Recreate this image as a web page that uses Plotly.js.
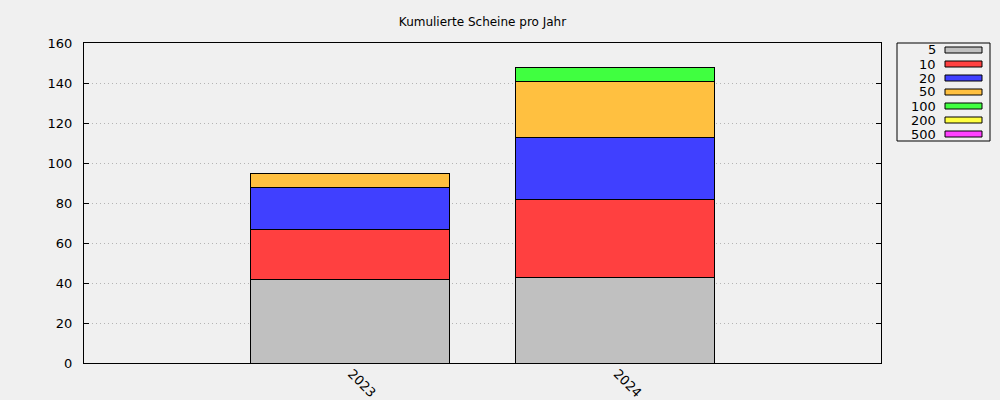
<!DOCTYPE html>
<html>
<head>
<meta charset="utf-8">
<script src="https://cdn.plot.ly/plotly-3.0.1.min.js"></script>
<style>
  html, body { margin: 0; padding: 0; background: #f0f0f0; }
  #chart { width: 1000px; height: 400px; }
</style>
</head>
<body>
<div id="chart"></div>
<script>
// ---- data ----
const years = ['2023', '2024'];
const denominations = ['5', '10', '20', '50', '100', '200', '500'];
const colors = ['#c0c0c0', '#ff4040', '#4040ff', '#ffc040', '#40ff40', '#ffff40', '#ff40ff'];
const count5   = [42, 43];
const count10  = [25, 39];
const count20  = [21, 31];
const count50  = [7, 28];
const count100 = [0, 7];
const count200 = [0, 0];
const count500 = [0, 0];
const seriesValues = [count5, count10, count20, count50, count100, count200, count500];

const FONT = 'DejaVu Sans, sans-serif';

const traces = denominations.map((d, i) => ({
  type: 'bar',
  name: d,
  x: years,
  y: seriesValues[i],
  width: 0.75,
  marker: { color: colors[i], line: { color: '#000000', width: 1 } },
  showlegend: false,
  hoverinfo: 'skip'
}));

// plot area in pixels
const L = 84, R = 881, T = 43, B = 363;
const px = v => (v - L) / (R - L);
const py = v => (B - v) / (B - T);

// custom gnuplot-style legend
const shapes = [{
  type: 'rect', xref: 'paper', yref: 'paper',
  x0: px(897), x1: px(990), y0: py(141), y1: py(43),
  line: { color: '#000000', width: 1 }, fillcolor: 'rgba(0,0,0,0)'
}];
const annotations = [];
denominations.forEach((d, i) => {
  const cy = 50 + i * 14;
  shapes.push({
    type: 'rect', xref: 'paper', yref: 'paper',
    x0: px(945), x1: px(982), y0: py(cy + 3), y1: py(cy - 3),
    line: { color: '#000000', width: 1 }, fillcolor: colors[i]
  });
  annotations.push({
    xref: 'paper', yref: 'paper', x: px(938), y: py(cy),
    xanchor: 'right', yanchor: 'middle', showarrow: false,
    text: d, font: { family: FONT, size: 13, color: '#000000' }
  });
});

const layout = {
  width: 1000, height: 400,
  paper_bgcolor: '#f0f0f0', plot_bgcolor: '#f0f0f0',
  margin: { l: L, r: 1000 - R, t: T, b: 400 - B, pad: 0 },
  barmode: 'stack',
  title: {
    text: 'Kumulierte Scheine pro Jahr',
    font: { family: FONT, size: 12, color: '#000000' },
    x: 0.5, xref: 'paper', xanchor: 'center',
    y: 1 - 22 / 400, yref: 'container', yanchor: 'middle'
  },
  font: { family: FONT, size: 13, color: '#000000' },
  xaxis: {
    type: 'category',
    range: [-1, 2],
    showline: true, linecolor: '#000000', linewidth: 1, mirror: true,
    ticks: '', showgrid: false, zeroline: false,
    tickangle: 45,
    ticklabelstandoff: -3,
    ticklabelshift: 2,
    tickfont: { family: FONT, size: 13, color: '#000000' },
    fixedrange: true
  },
  yaxis: {
    range: [0, 160], tickvals: [0, 20, 40, 60, 80, 100, 120, 140, 160],
    showline: true, linecolor: '#000000', linewidth: 1, mirror: 'allticks',
    ticks: 'inside', ticklen: 5, tickcolor: '#000000', tickwidth: 1,
    showgrid: true, gridcolor: '#b4b4b4', gridwidth: 1, griddash: '1px,3px',
    zeroline: false,
    ticklabelstandoff: 8,
    tickfont: { family: FONT, size: 13, color: '#000000' },
    fixedrange: true
  },
  shapes: shapes,
  annotations: annotations
};

Plotly.newPlot('chart', traces, layout, { displayModeBar: false, staticPlot: true });
</script>
</body>
</html>
